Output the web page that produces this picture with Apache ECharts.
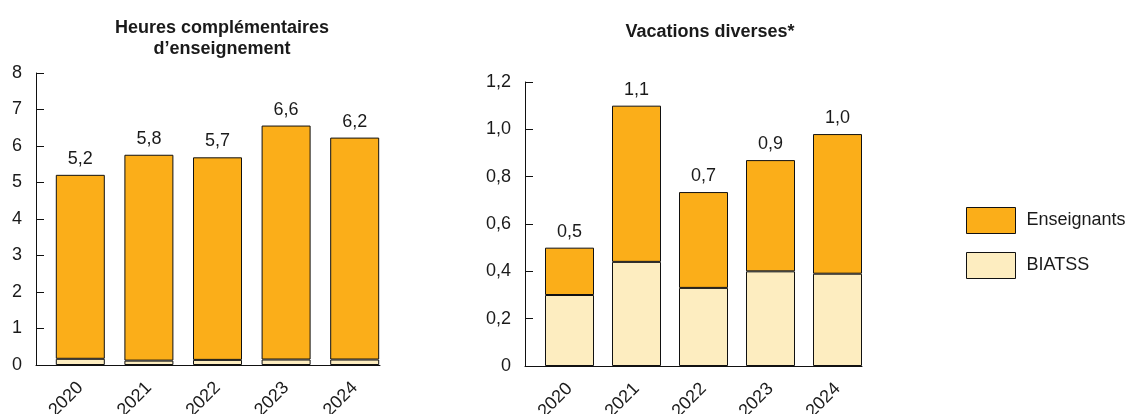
<!DOCTYPE html>
<html><head><meta charset="utf-8">
<script src="https://cdn.jsdelivr.net/npm/echarts@6/dist/echarts.min.js"></script>
<style>html,body{margin:0;padding:0;background:#fff}#c{width:1129px;height:414px}</style>
</head><body><div id="c"></div>
<script>
const years = ['2020','2021','2022','2023','2024'];
// Heures complémentaires d'enseignement
const hcEnseignants = [5.04, 5.64, 5.55, 6.41, 6.08];
const hcBiatss = [0.17, 0.12, 0.14, 0.15, 0.15];
// Vacations diverses
const vdEnseignants = [0.20, 0.66, 0.405, 0.47, 0.59];
const vdBiatss = [0.30, 0.44, 0.33, 0.40, 0.39];

const ORANGE = '#FBAE19', LIGHT = '#FDEDC0', EDGE = '#111111', TXT = '#1a1a1a';
const FONT = 'Liberation Sans, Arial, sans-serif';
const FS = 18;
const fmt = v => v === 0 ? '0' : v.toFixed(1).replace('.', ',');
const fmtInt = v => String(v);

function totalLabel(a, b) {
  return p => (a[p.dataIndex] + b[p.dataIndex]).toFixed(1).replace('.', ',');
}
function yAx(gi, max, interval, formatter) {
  return {
    type: 'value', gridIndex: gi, min: 0, max: max, interval: interval, offset: gi === 0 ? 10 : 11,
    axisLine: {show: true, lineStyle: {color: EDGE, width: 1}},
    axisTick: {show: true, inside: true, length: 8, lineStyle: {color: EDGE}},
    splitLine: {show: false},
    axisLabel: {color: TXT, fontSize: FS, fontFamily: FONT, margin: 14, formatter: formatter}
  };
}
function xAx(gi) {
  return {
    type: 'category', gridIndex: gi, data: years,
    axisLine: {show: false}, axisTick: {show: false},
    axisLabel: {color: TXT, fontSize: FS, fontFamily: FONT, rotate: 45, margin: 20, interval: 0}
  };
}
function lineAx(gi) {
  return {
    type: 'value', gridIndex: gi, min: 0, max: 1,
    axisLine: {show: true, lineStyle: {color: EDGE, width: 1}},
    axisTick: {show: false}, axisLabel: {show: false}, splitLine: {show: false}
  };
}
function hidY(gi) {
  return {type: 'value', gridIndex: gi, show: false, min: 0, max: 1};
}
const itemB = {color: LIGHT, borderColor: EDGE, borderWidth: 1};
const itemE = {color: ORANGE, borderColor: EDGE, borderWidth: 1};
const lbl = (a, b) => ({show: true, position: 'top', distance: 7, color: TXT, fontSize: FS, fontFamily: FONT, formatter: totalLabel(a, b)});
const G = {outerBoundsMode: 'none', containLabel: false};

const option = {
  animation: false,
  backgroundColor: '#fff',
  title: [
    {text: 'Heures complémentaires\nd’enseignement', left: 217, top: 13, textAlign: 'center',
     textStyle: {fontSize: 18, fontWeight: 'bold', fontFamily: FONT, color: TXT, lineHeight: 21}},
    {text: 'Vacations diverses*', left: 705, top: 18, textAlign: 'center',
     textStyle: {fontSize: 18, fontWeight: 'bold', fontFamily: FONT, color: TXT}}
  ],
  legend: {
    orient: 'vertical', left: 961, top: 202, itemWidth: 49, itemHeight: 26, itemGap: 18,
    icon: 'rect',
    data: ['Enseignants', 'BIATSS'],
    textStyle: {fontSize: FS, fontFamily: FONT, color: TXT, padding: [0, 0, 0, 6]},
    itemStyle: {borderColor: EDGE, borderWidth: 1}
  },
  grid: [
    Object.assign({left: 46, width: 343, top: 73, bottom: 49}, G),
    Object.assign({left: 536, width: 335, top: 82, bottom: 48}, G),
    Object.assign({left: 36, width: 344, top: 73, bottom: 49}, G),
    Object.assign({left: 525, width: 337, top: 82, bottom: 48}, G)
  ],
  xAxis: [xAx(0), xAx(1), lineAx(2), lineAx(3)],
  yAxis: [yAx(0, 8, 1, fmtInt), yAx(1, 1.2, 0.2, fmt), hidY(2), hidY(3)],
  series: [
    {name: 'BIATSS', type: 'bar', stack: 'a', xAxisIndex: 0, yAxisIndex: 0, barWidth: 49, data: hcBiatss, itemStyle: itemB},
    {name: 'Enseignants', type: 'bar', stack: 'a', xAxisIndex: 0, yAxisIndex: 0, barWidth: 49, data: hcEnseignants, itemStyle: itemE, label: lbl(hcEnseignants, hcBiatss)},
    {name: 'BIATSS', type: 'bar', stack: 'b', xAxisIndex: 1, yAxisIndex: 1, barWidth: 49, data: vdBiatss, itemStyle: itemB},
    {name: 'Enseignants', type: 'bar', stack: 'b', xAxisIndex: 1, yAxisIndex: 1, barWidth: 49, data: vdEnseignants, itemStyle: itemE, label: lbl(vdEnseignants, vdBiatss)}
  ]
};
echarts.init(document.getElementById('c'), null, {renderer: 'canvas'}).setOption(option);
</script></body></html>
